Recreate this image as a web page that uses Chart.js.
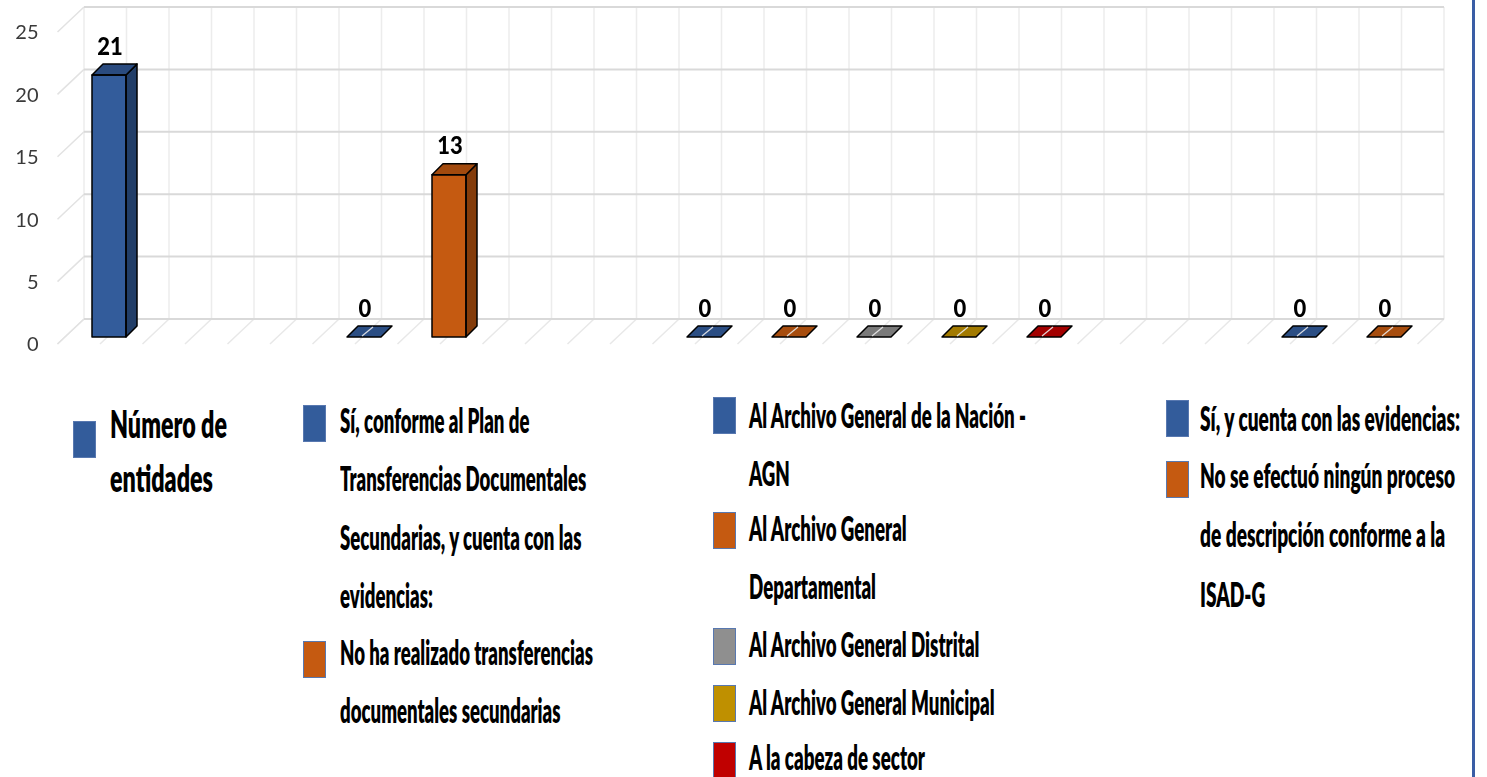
<!DOCTYPE html>
<html>
<head>
<meta charset="utf-8">
<script src="https://cdn.jsdelivr.net/npm/chart.js@4.4.1/dist/chart.umd.min.js"></script>
<style>
  html, body { margin: 0; padding: 0; background: #ffffff; }
  body { width: 1487px; height: 777px; position: relative; overflow: hidden; }
  #chartBox { position: absolute; left: 0; top: 0; width: 1487px; height: 380px; }
  .sw { position: absolute; width: 23px; height: 37px; box-sizing: border-box; border: 1.5px solid #5878B0; }
  .lt { position: absolute; white-space: nowrap; font-family: Lato, 'Open Sans', sans-serif; font-weight: 800; color: #000; line-height: 1.2; }
  #rightBorder { position: absolute; left: 1472px; top: 0; width: 2.5px; height: 777px; background: #3A5DA5; }
</style>
</head>
<body>
<div id="chartBox"><canvas id="c"></canvas></div>
<div id="legend"></div>
<div id="rightBorder"></div>
<script>
// ---------------- DATA ----------------
const categories = ['1', '2', '3', '4', '5', '6', '7', '8', '9', '10', '11', '12', '13', '14', '15', '16'];
const yTickValues = [0, 5, 10, 15, 20, 25];
const seriesNames = [
  'Número de entidades',
  'Sí, conforme al Plan de Transferencias Documentales Secundarias, y cuenta con las evidencias:',
  'No ha realizado transferencias documentales secundarias',
  'Al Archivo General de la Nación - AGN',
  'Al Archivo General Departamental',
  'Al Archivo General Distrital',
  'Al Archivo General Municipal',
  'A la cabeza de sector',
  'Sí, y cuenta con las evidencias:',
  'No se efectuó ningún proceso de descripción conforme a la ISAD-G'
];
const seriesValues = [21, 0, 13, 0, 0, 0, 0, 0, 0, 0];
const seriesCategory = [0, 3, 4, 7, 8, 9, 10, 11, 14, 15];
const seriesColors = ['#335C9B', '#335C9B', '#C55A11', '#335C9B', '#C55A11', '#8F8F8F', '#BF9000', '#C00000', '#335C9B', '#C55A11'];

// ---------------- helpers ----------------
function shade(hex, f) {
  const n = parseInt(hex.slice(1), 16);
  const r = Math.round(((n >> 16) & 255) * f), g = Math.round(((n >> 8) & 255) * f), b = Math.round((n & 255) * f);
  return 'rgb(' + r + ',' + g + ',' + b + ')';
}

// 3D geometry offsets (relative to the bar plane)
const FRONT = { dx: -9, dy: 7 };
const BACK = { dx: 17.5, dy: -18 };
const DEPTH = 11;

const threeD = {
  id: 'threeD',
  beforeDatasetsDraw(chart) {
    const ctx = chart.ctx;
    const ys = chart.scales.y;
    const left = chart.chartArea.left, right = chart.chartArea.right;
    const half = (right - left) / categories.length / 2;
    const y0 = ys.getPixelForValue(0), yTop = ys.getPixelForValue(25);
    ctx.save();
    // floor diagonals
    ctx.strokeStyle = '#E8E8E8'; ctx.lineWidth = 1.5;
    for (let k = 0; k <= categories.length * 2; k++) {
      const x = left + k * half;
      ctx.beginPath();
      ctx.moveTo(x + FRONT.dx, y0 + FRONT.dy);
      ctx.lineTo(x + BACK.dx, y0 + BACK.dy);
      ctx.stroke();
    }
    // back wall vertical lines
    ctx.strokeStyle = '#ECECEC'; ctx.lineWidth = 1.5;
    for (let k = 0; k <= categories.length * 2; k++) {
      const x = left + k * half + BACK.dx;
      ctx.beginPath();
      ctx.moveTo(x, yTop + BACK.dy);
      ctx.lineTo(x, y0 + BACK.dy);
      ctx.stroke();
    }
    // left side wall diagonals + back wall horizontal lines
    yTickValues.forEach(v => {
      const y = ys.getPixelForValue(v);
      ctx.strokeStyle = '#E2E2E2'; ctx.lineWidth = 1.5;
      ctx.beginPath();
      ctx.moveTo(left + FRONT.dx, y + FRONT.dy);
      ctx.lineTo(left + BACK.dx, y + BACK.dy);
      ctx.stroke();
      ctx.strokeStyle = '#D9D9D9'; ctx.lineWidth = 2;
      ctx.beginPath();
      ctx.moveTo(left + BACK.dx, y + BACK.dy);
      ctx.lineTo(right + BACK.dx, y + BACK.dy);
      ctx.stroke();
    });
    ctx.restore();
  },
  afterDatasetsDraw(chart) {
    const ctx = chart.ctx;
    ctx.save();
    ctx.lineJoin = 'round';
    chart.data.datasets.forEach((ds, i) => {
      const meta = chart.getDatasetMeta(i);
      meta.data.forEach((el, j) => {
        const v = ds.data[j];
        if (v === null || v === undefined) return;
        const p = el.getProps(['x', 'y', 'base', 'width'], true);
        const l = p.x - p.width / 2, r = p.x + p.width / 2;
        const col = seriesColors[i];
        ctx.strokeStyle = '#000'; ctx.lineWidth = 1.5;
        if (v > 0) {
          ctx.fillStyle = shade(col, 0.67);
          ctx.beginPath();
          ctx.moveTo(r, p.y); ctx.lineTo(r + DEPTH, p.y - DEPTH);
          ctx.lineTo(r + DEPTH, p.base - DEPTH); ctx.lineTo(r, p.base); ctx.closePath();
          ctx.fill(); ctx.stroke();
          ctx.fillStyle = shade(col, 0.82);
          ctx.beginPath();
          ctx.moveTo(l, p.y); ctx.lineTo(l + DEPTH, p.y - DEPTH);
          ctx.lineTo(r + DEPTH, p.y - DEPTH); ctx.lineTo(r, p.y); ctx.closePath();
          ctx.fill(); ctx.stroke();
          ctx.strokeRect(l, p.y, p.width, p.base - p.y);
        } else {
          ctx.fillStyle = shade(col, 0.85);
          ctx.beginPath();
          ctx.moveTo(l, p.base); ctx.lineTo(l + DEPTH, p.base - DEPTH);
          ctx.lineTo(r + DEPTH, p.base - DEPTH); ctx.lineTo(r, p.base); ctx.closePath();
          ctx.fill(); ctx.stroke();
          ctx.strokeStyle = 'rgba(235,235,235,0.9)'; ctx.lineWidth = 1.2;
          ctx.beginPath();
          ctx.moveTo(p.x - 2, p.base - 1); ctx.lineTo(p.x - 2 + DEPTH, p.base - DEPTH + 1);
          ctx.stroke();
        }
        // data label
        ctx.save();
        ctx.translate(p.x + 1, p.y - 28.5);
        ctx.scale(1, 1.15);
        ctx.fillStyle = '#000';
        ctx.font = '900 22px Lato, "Open Sans", sans-serif';
        ctx.textAlign = 'center'; ctx.textBaseline = 'middle';
        ctx.fillText(String(v), 0, 0);
        ctx.restore();
      });
    });
    ctx.restore();
  }
};

const datasets = seriesNames.map((name, i) => ({
  label: name,
  data: categories.map((c, j) => (j === seriesCategory[i] ? seriesValues[i] : null)),
  backgroundColor: seriesColors[i],
  borderWidth: 0,
  barPercentage: 0.4,
  categoryPercentage: 1.0,
  grouped: false
}));

new Chart(document.getElementById('c'), {
  type: 'bar',
  data: { labels: categories, datasets },
  options: {
    responsive: true,
    maintainAspectRatio: false,
    animation: false,
    skipNull: true,
    layout: { padding: { left: 0, right: 60.5, top: 25, bottom: 43 } },
    plugins: { legend: { display: false }, tooltip: { enabled: false } },
    scales: {
      x: {
        type: 'category',
        offset: true,
        grid: { display: false, drawTicks: false },
        border: { display: false },
        ticks: { display: false }
      },
      y: {
        min: 0, max: 25,
        afterBuildTicks(scale) { scale.ticks = yTickValues.map(v => ({ value: v })); },
        afterFit(scale) { scale.width = 66.5; },
        grid: { display: false, drawTicks: true, tickLength: 28 },
        border: { display: false },
        ticks: {
          padding: 0,
          labelOffset: 8,
          color: '#3A3A3A',
          font: { family: 'Lato, "Open Sans", sans-serif', size: 20 }
        }
      }
    }
  },
  plugins: [threeD]
});

// ---------------- HTML legend ----------------
const legendCols = [
  { sx: 73, tx: 110, font: 22, capH: 27, refText: 'Número de', refW: 117,
    items: [{ s: 0, top: 421, lines: [['Número de', 426], ['entidades', 480]] }] },
  { sx: 303, tx: 340, font: 17, capH: 24, refText: 'No ha realizado transferencias', refW: 253,
    items: [
      { s: 1, top: 405, lines: [['Sí, conforme al Plan de', 423], ['Transferencias Documentales', 481], ['Secundarias, y cuenta con las', 540], ['evidencias:', 598]] },
      { s: 2, top: 641, lines: [['No ha realizado transferencias', 655], ['documentales secundarias', 713]] }
    ] },
  { sx: 713, tx: 749, font: 17, capH: 24, refText: 'Al Archivo General de la Nación -', refW: 277,
    items: [
      { s: 3, top: 397, lines: [['Al Archivo General de la Nación -', 418], ['AGN', 476]] },
      { s: 4, top: 512, lines: [['Al Archivo General', 531], ['Departamental', 589]] },
      { s: 5, top: 628, lines: [['Al Archivo General Distrital', 647]] },
      { s: 6, top: 685, lines: [['Al Archivo General Municipal', 705]] },
      { s: 7, top: 742, lines: [['A la cabeza de sector', 760]] }
    ] },
  { sx: 1166, tx: 1200, font: 17, capH: 24, refText: 'Sí, y cuenta con las evidencias:', refW: 260,
    items: [
      { s: 8, top: 400, lines: [['Sí, y cuenta con las evidencias:', 421]] },
      { s: 9, top: 461, lines: [['No se efectuó ningún proceso', 478], ['de descripción conforme a la', 537], ['ISAD-G', 597]] }
    ] }
];

const legendEl = document.getElementById('legend');
function measure(text, font) {
  const s = document.createElement('span');
  s.className = 'lt'; s.style.fontSize = font + 'px'; s.style.visibility = 'hidden';
  s.textContent = text; document.body.appendChild(s);
  const w = s.getBoundingClientRect().width; s.remove(); return w;
}
legendCols.forEach(col => {
  const sxScale = col.refW / measure(col.refText, col.font);
  const syScale = col.capH / (0.7165 * col.font);
  const capCenter = 0.629 * col.font;
  col.items.forEach(it => {
    const sw = document.createElement('div');
    sw.className = 'sw';
    sw.style.left = col.sx + 'px'; sw.style.top = it.top + 'px';
    sw.style.background = seriesColors[it.s];
    legendEl.appendChild(sw);
    it.lines.forEach(([txt, cy]) => {
      const d = document.createElement('div');
      d.className = 'lt';
      d.style.fontSize = col.font + 'px';
      d.style.left = col.tx + 'px';
      d.style.top = (cy - capCenter) + 'px';
      d.style.transformOrigin = '0 ' + capCenter + 'px';
      d.style.transform = 'scale(' + sxScale.toFixed(4) + ',' + syScale.toFixed(4) + ')';
      d.textContent = txt;
      legendEl.appendChild(d);
    });
  });
});
</script>
</body>
</html>
